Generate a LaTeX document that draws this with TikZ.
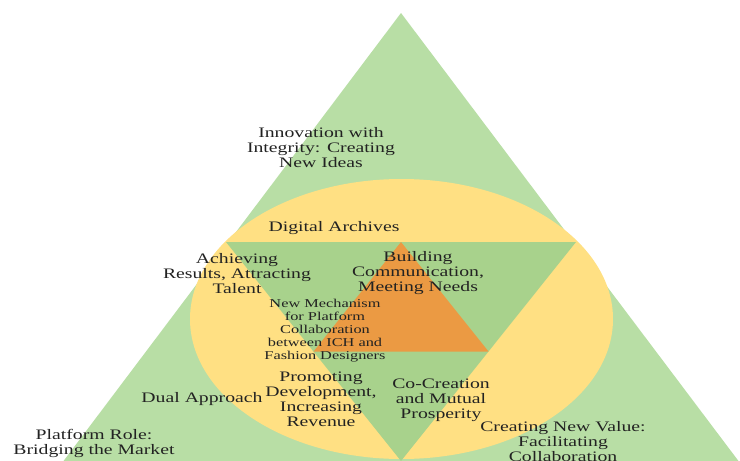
\documentclass[tikz,border=0pt]{standalone}
\usepackage{fontspec}
\usetikzlibrary{calc}
\setmainfont{Liberation Serif}[FakeStretch=1.36]
\definecolor{outergreen}{HTML}{B8DEA5}
\definecolor{innergreen}{HTML}{A8D28C}
\definecolor{gold}{HTML}{FFE083}
\definecolor{orangefill}{HTML}{EB9A43}
\definecolor{txt}{HTML}{222222}
\begin{document}
\begin{tikzpicture}[x=1pt,y=-1pt,
  lbl/.style={align=center,inner sep=0pt,text=txt,font=\fontsize{14.5}{15}\selectfont},
  smalllbl/.style={align=center,inner sep=0pt,text=txt,font=\fontsize{12}{13}\selectfont}]
\useasboundingbox (0,0) rectangle (740,461);
\fill[white] (0,0) rectangle (740,461);
\clip (0,0) rectangle (740,461);
% outer triangle
\coordinate (A) at (401,13);
\coordinate (B) at (56,471);
\coordinate (C) at (746,471);
\fill[outergreen] (A) -- (B) -- (C) -- cycle;
% ellipse
\fill[gold] (401.5,319) ellipse [x radius=211.5pt, y radius=140pt];
% inverted triangle
\coordinate (P) at (226,242);
\coordinate (Q) at (576,242);
\coordinate (R) at (401,461);
\fill[innergreen] (P) -- (Q) -- (R) -- cycle;
% orange triangle
\coordinate (U) at (401,242);
\coordinate (V) at ($(P)!0.5!(R)$);
\coordinate (W) at ($(Q)!0.5!(R)$);
\fill[orangefill] (U) -- (V) -- (W) -- cycle;
% labels
\node[lbl] (innov) at (321,148) {Innovation with\\Integrity: Creating\\New Ideas};
\node[lbl] (digital) at (334,228) {Digital Archives};
\node[lbl] (achieve) at (237,274) {Achieving\\Results, Attracting\\Talent};
\node[lbl] (build) at (418,273) {Building\\Communication,\\Meeting Needs};
\node[smalllbl] (mech) at (325,331) {New Mechanism\\for Platform\\Collaboration\\between ICH and\\Fashion Designers};
\node[lbl] (promote) at (321,399) {Promoting\\Development,\\Increasing\\Revenue};
\node[lbl] (dual) at (202,399) {Dual Approach};
\node[lbl] (cocreate) at (441,400) {Co-Creation\\and Mutual\\Prosperity};
\node[lbl] (value) at (563,442) {Creating New Value:\\Facilitating\\Collaboration};
\node[lbl] (platform) at (94,443) {Platform Role:\\Bridging the Market};
\end{tikzpicture}
\end{document}
